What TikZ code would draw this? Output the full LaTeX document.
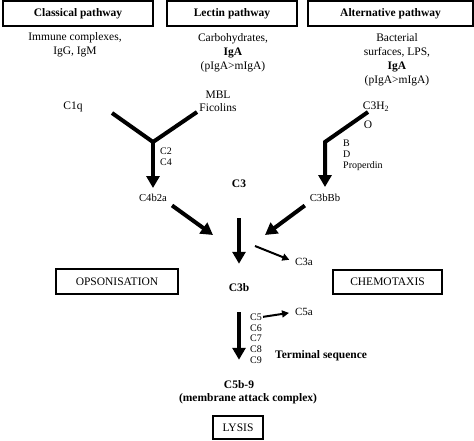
\documentclass[tikz,border=0pt]{standalone}
\usepackage{fontspec}
\setmainfont{Liberation Serif}
\usetikzlibrary{arrows.meta}

\begin{document}
\begin{tikzpicture}[x=1pt,y=-1pt,
  box/.style={draw,line width=1.2pt,inner sep=0pt,font=\fontsize{11.5}{13}\selectfont},
  lbl/.style={inner sep=0pt,align=center,font=\fontsize{11.5}{14}\selectfont},
  sml/.style={inner sep=0pt,font=\fontsize{10}{10.75}\selectfont},
  mid/.style={inner sep=0pt,font=\fontsize{10.7}{12}\selectfont},
  big/.style={line width=4pt,-{Triangle[width=13pt,length=12pt]}},
  smallarr/.style={line width=2pt,-{Triangle[width=7pt,length=7pt]}}]

\useasboundingbox (0,0) rectangle (474,441);

\node[box,minimum width=150pt,minimum height=25pt] (p1) at (78,13.5) {\textbf{Classical pathway}};
\node[box,minimum width=130pt,minimum height=25pt] (p2) at (232,13.5) {\textbf{Lectin pathway}};
\node[box,minimum width=165pt,minimum height=25pt] (p3) at (390.5,13.5) {\textbf{Alternative pathway}};

\node[lbl] (s1) at (75,45) {Immune complexes,\\IgG, IgM};
\node[lbl] (s2) at (233,52.5) {Carbohydrates,\\\textbf{IgA}\\(pIgA>mIgA)};
\node[lbl] (s3) at (397,60) {Bacterial\\surfaces, LPS,\\\textbf{IgA}\\(pIgA>mIgA)};

\node[lbl] (c1q) at (73,107) {C1q};
\node[lbl,font=\fontsize{11.5}{13}\selectfont] (mbl) at (218,101.5) {MBL\\Ficolins};
\node[lbl] (c3h) at (376,107) {C3H\textsubscript{2}};
\node[lbl] (o) at (368,125) {O};

\node[sml,align=left,anchor=west] (c2c4) at (160,156.5) {C2\\C4};
\node[sml,align=left,anchor=west] (bdp) at (343,155.5) {B\\D\\Properdin};

\node[mid] (c4b2a) at (153,198) {C4b2a};
\node[mid] (c3bbb) at (325,198) {C3bBb};
\node[lbl] (c3) at (239,184) {\textbf{C3}};
\node[lbl] (c3b) at (239,288) {\textbf{C3b}};
\node[lbl,font=\fontsize{11}{12}\selectfont] (c3a) at (304,262) {C3a};
\node[lbl,font=\fontsize{11}{12}\selectfont] (c5a) at (304,312) {C5a};

\node[box,minimum width=122pt,minimum height=25pt] (ops) at (117,281.5) {OPSONISATION};
\node[box,minimum width=109pt,minimum height=24pt] (chem) at (387.5,282) {CHEMOTAXIS};

\foreach \n [count=\i] in {5,...,9}
  \node[sml,anchor=west] (c\n) at (250,{317+10.75*(\i-1)}) {C\n};
\node[lbl,anchor=west] (term) at (275,356) {\textbf{Terminal sequence}};

\node[lbl] (c5b9) at (239,385) {\textbf{C5b-9}};
\node[lbl] (mac) at (248,398.5) {\textbf{(membrane attack complex)}};
\node[box,minimum width=50pt,minimum height=23pt] (lysis) at (238,427.5) {LYSIS};

\coordinate (y1) at (112,113);
\coordinate (y2) at (197,112);
\coordinate (yj) at (153,142);
\coordinate (a1) at (368,112);
\coordinate (a2) at (325,142);
\coordinate (m1) at (213,235);
\coordinate (m2) at (265,235);
\coordinate (k1) at (255,246);

\draw[line width=4pt,line join=miter] (y1) -- (yj) -- (y2);
\draw[big,shorten >=6pt] (yj) -- (c4b2a.north);
\draw[big,line join=miter,shorten >=7pt] (a1) -- (a2) -- (a2 |- c3bbb.north);
\draw[big,shorten <=6pt] (c4b2a.south east) -- (m1);
\draw[big,shorten <=6pt] (c3bbb.south west) -- (m2);
\draw[big,shorten <=30pt,shorten >=20pt] (c3.south) -- (c3b.north);
\draw[smallarr,shorten >=6pt] (k1) -- (c3a.west);
\draw[big,shorten <=20pt,shorten >=21pt] (c3b.south) -- (c5b9.north);
\draw[smallarr,shorten <=1pt,shorten >=6pt] (c5.east) -- (c5a.west);
\end{tikzpicture}
\end{document}
